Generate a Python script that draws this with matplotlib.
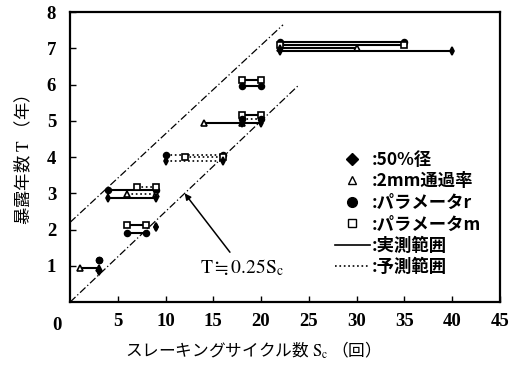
import matplotlib
matplotlib.use('Agg')
from matplotlib import pyplot as plt
from matplotlib.lines import Line2D

plt.rcParams['font.family'] = ['Noto Sans CJK JP', 'DejaVu Sans']
plt.rcParams['mathtext.fontset'] = 'stix'

# range segments: parameter, S from, S to, T (as drawn), measured/predicted
seg_param = ['r', 'm', 'p2', 'd50',
             'm', 'r',
             'p2', 'd50', 'm', 'r',
             'r', 'm', 'd50',
             'r', 'm', 'p2', 'd50',
             'm', 'r', 'd50',
             'p2', 'r', 'd50']
seg_s0 = [22, 22, 22, 22,
          18, 18,
          14, 18, 18, 18,
          10, 12, 10,
          4, 7, 6, 4,
          6, 6, 9,
          1, 3, 3]
seg_s1 = [35, 35, 30, 40,
          20, 20,
          18, 20, 20, 20,
          16, 16, 16,
          9, 9, 9, 9,
          8, 8, 9,
          3, 3, 3]
seg_t = [7.17, 7.10, 7.00, 6.93,
         6.12, 5.95,
         4.93, 4.93, 5.15, 5.05,
         4.05, 4.00, 3.90,
         3.10, 3.17, 2.97, 2.88,
         2.12, 1.92, 2.07,
         0.95, 1.15, 0.85]
seg_kind = ['実測', '実測', '実測', '実測',
            '実測', '実測',
            '実測', '実測', '実測', '予測',
            '予測', '予測', '予測',
            '実測', '予測', '予測', '実測',
            '実測', '実測', '実測',
            '実測', '実測', '実測']

upper_s = [0, 22.3]
upper_t = [2.2, 7.65]
lower_s = [0, 24]
lower_t = [0, 6]

legend_labels = [':50%径', ':2mm通過率', ':パラメータr', ':パラメータm', ':実測範囲', ':予測範囲']

mk = {'d50': ('d', 'black'), 'p2': ('^', 'white'), 'r': ('o', 'black'), 'm': ('s', 'white')}

fig = plt.figure(figsize=(5.19, 3.68), dpi=100)
ax = fig.add_axes([0.135, 0.179, 0.828, 0.788])

ax.plot(upper_s, upper_t, color='black', lw=0.9, linestyle=(0, (6, 2, 1, 2)))
ax.plot(lower_s, lower_t, color='black', lw=0.9, linestyle=(0, (6, 2, 1, 2)))

for p, a, b, t, k in zip(seg_param, seg_s0, seg_s1, seg_t, seg_kind):
    m, fc = mk[p]
    ls = '-' if k == '実測' else ':'
    lw = 1.5 if k == '実測' else 1.2
    ax.plot([a, b], [t, t], color='black', lw=lw, linestyle=ls,
            marker=m, markersize=4.2, markerfacecolor=fc, markeredgecolor='black',
            markeredgewidth=1.2)

ax.annotate(r'$\mathrm{T}\fallingdotseq\mathrm{0.25S_c}$', xy=(12, 3.0), xytext=(13.6, 0.95),
            fontsize=14, va='center', ha='left',
            arrowprops=dict(arrowstyle='-|>', color='black', lw=1.1,
                            mutation_scale=9, shrinkA=2, shrinkB=0))

ax.set_xlim(0, 45)
ax.set_ylim(0, 8)
ax.set_xticks(range(5, 46, 5))
ax.set_yticks(range(1, 9))
ax.tick_params(direction='in', length=4, width=1, labelsize=13.5)
ax.tick_params(axis='y', pad=10)
ax.tick_params(axis='x', pad=8)
for lb in ax.get_xticklabels() + ax.get_yticklabels():
    lb.set_family('Liberation Serif')
    lb.set_fontweight('bold')
ax.text(-0.03, -0.08, '0', transform=ax.transAxes, ha='center', va='center',
        fontsize=13.5, family='Liberation Serif', fontweight='bold')
for s in ax.spines.values():
    s.set_linewidth(1.6)

ax.set_xlabel('スレーキングサイクル数 $\\mathrm{S_c}$ （回）', fontsize=12)
ax.xaxis.set_label_coords(0.416, -0.13)
ax.set_ylabel('暴露年数 $\\mathrm{T}$ （年）', fontsize=12.5)
ax.yaxis.set_label_coords(-0.085, 0.49)

handles = [Line2D([], [], ls='none', marker='D', markersize=6, color='black'),
           Line2D([], [], ls='none', marker='^', markersize=6, markerfacecolor='white', markeredgecolor='black'),
           Line2D([], [], ls='none', marker='o', markersize=7, color='black'),
           Line2D([], [], ls='none', marker='s', markersize=6, markerfacecolor='white', markeredgecolor='black'),
           Line2D([], [], ls='-', lw=1.2, color='black'),
           Line2D([], [], ls=':', lw=1.2, color='black')]
ax.legend(handles, legend_labels, loc='upper left', bbox_to_anchor=(0.58, 0.575),
          frameon=False, handlelength=2.0, handletextpad=0.1, labelspacing=0.2,
          prop={'size': 12.5, 'weight': 'bold'})

fig.savefig('out.png', dpi=100)
